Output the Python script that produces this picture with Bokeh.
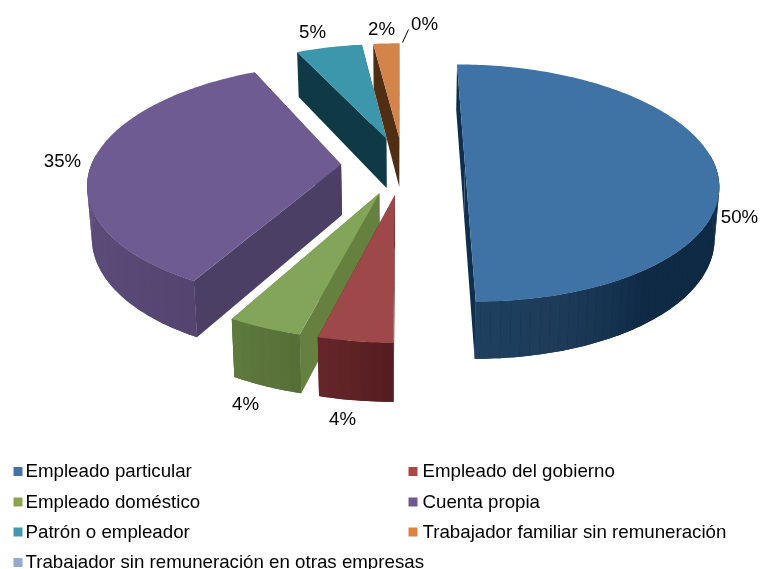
import numpy as np
from bokeh.embed import file_html
from bokeh.resources import INLINE
from bokeh.plotting import figure
from bokeh.core.properties import value

# ---- chart data -----------------------------------------------------------
categories = ["Empleado particular", "Empleado del gobierno", "Empleado doméstico",
              "Cuenta propia", "Patrón o empleador",
              "Trabajador familiar sin remuneración",
              "Trabajador sin remuneración en otras empresas"]
shares = [50, 4, 4, 35, 5, 2, 0]

# ---- styles ----------------------------------------------------------------
legend_colors = ["#4572A7", "#AA4643", "#89A54E", "#71588F", "#4198AF", "#DB843D", "#93A9CF"]
top_colors = ["#3F73A6", "#9F4849", "#83A55A", "#6E5B91", "#3C97AD", "#D3844A", "#8FA8CE"]
cut_colors = ["#0F2F4F", "#5A2023", "#66803F", "#4B3F66", "#0F3A45", "#4F2E14", "#55657C"]
wall_stops = [["#0E2A45", "#0E2A45", "#0E2A45", "#0E2A45", "#1D3B58", "#1F4060"],
              ["#561D20", "#652629"],
              ["#566F38", "#5E7A3E"],
              ["#54446F", "#5B4B79", "#615082"],
              ["#0F3A45", "#0F3A45"],
              ["#4F2E14", "#4F2E14"],
              ["#55657C", "#55657C"]]
draw_order = [4, 5, 3, 0, 2, 1]

# ---- projection of the tilted pie onto the picture --------------------------
CX, CY = 402.5, 165.0
RADIUS, EXPLODE = 250.0, 62.0
TILT, PERSP = 0.464, 0.00059
DEPTH, SHRINK = 50.5, 0.985


def project(X, Y, low=False):
    s = 1.0 / (1.0 + PERSP * Y)
    x, y = X * s, -TILT * Y * s
    if low:
        x, y = x * SHRINK, y * SHRINK + DEPTH * s
    return CX + x, CY + y


def mix(stops, t):
    rgb = [[int(c[i:i + 2], 16) for i in (1, 3, 5)] for c in stops]
    u = min(max(t, 0.0), 1.0) * (len(rgb) - 1)
    i = min(int(u), len(rgb) - 2)
    f = u - i
    return "#%02x%02x%02x" % tuple(int(round(a + (b - a) * f)) for a, b in zip(rgb[i], rgb[i + 1]))


total = sum(shares)
edges = np.radians(np.concatenate([[0], np.cumsum(shares)]) * 360.0 / total)

xs, ys, fills = [], [], []


def add(pts, color):
    xs.append([float(a) for a, _ in pts])
    ys.append([float(b) for _, b in pts])
    fills.append(color)


for i in draw_order:
    a0, a1 = edges[i], edges[i + 1]
    mid = (a0 + a1) / 2
    ox, oy = EXPLODE * np.sin(mid), EXPLODE * np.cos(mid)
    arc = np.linspace(a0, a1, max(int(np.degrees(a1 - a0) / 1.0), 2) + 1)
    rim = [(ox + RADIUS * np.sin(t), oy + RADIUS * np.cos(t)) for t in arc]
    apex = (ox, oy)
    # the two cut faces
    for p_ in (rim[0], rim[-1]):
        add([project(*apex), project(*p_), project(*p_, low=True), project(*apex, low=True)], cut_colors[i])
    # the outer wall, front part only: one solid base, then broad shaded bands
    front = [j for j in range(len(rim)) if np.cos(arc[j]) < 0.1]
    if len(front) > 1:
        upper = [project(*rim[j]) for j in front]
        lower = [project(*rim[j], low=True) for j in front]
        add(upper + lower[::-1], mix(wall_stops[i], 0.5))
        band = 2
        starts = list(range(0, len(front) - 1, band))
        for n, b in enumerate(starts):
            e = min(b + band + 1, len(front))
            add(upper[b:e] + lower[b:e][::-1], mix(wall_stops[i], n / max(len(starts) - 1, 1)))
    # the top face
    add([project(*apex)] + [project(*q) for q in rim], top_colors[i])

p = figure(width=760, height=569, x_range=(0, 760), y_range=(569, 0),
           output_backend="svg", toolbar_location=None, min_border=0,
           x_axis_location=None, y_axis_location=None, outline_line_color=None,
           background_fill_color="white", border_fill_color="white")
p.styles = {"position": "fixed", "left": "0px", "top": "0px"}
p.grid.visible = False

p.patches(xs, ys, fill_color=fills, line_color=None)

# ---- data labels -----------------------------------------------------------
FONT = value("Liberation Sans")
label_x = [739, 342, 245, 62, 312, 381, 424]
label_y = [216, 418, 403, 160, 31, 28, 23]
p.text(label_x, label_y, text=[f"{v}%" for v in shares], text_font=FONT, text_font_size="18.67px",
       text_color="#000000", text_align="center", text_baseline="middle")
p.line([402, 408], [42, 29], line_color="#000000", line_width=1)

# ---- legend ----------------------------------------------------------------
col_x = [13, 408]
row_y = [470, 500.5, 530.5, 561]
leg_x = [col_x[i % 2] for i in range(len(categories))]
leg_y = [row_y[i // 2] for i in range(len(categories))]
p.rect([a + 4.5 for a in leg_x], [b + 1 for b in leg_y], width=9, height=9, fill_color=legend_colors, line_color=None)
p.text([a + (12 if a < 100 else 14) for a in leg_x], leg_y, text=categories, text_font=FONT, text_font_size="18.72px",
       text_color="#000000", text_align="left", text_baseline="middle")

open("out.html", "w").write(file_html(p, INLINE))
